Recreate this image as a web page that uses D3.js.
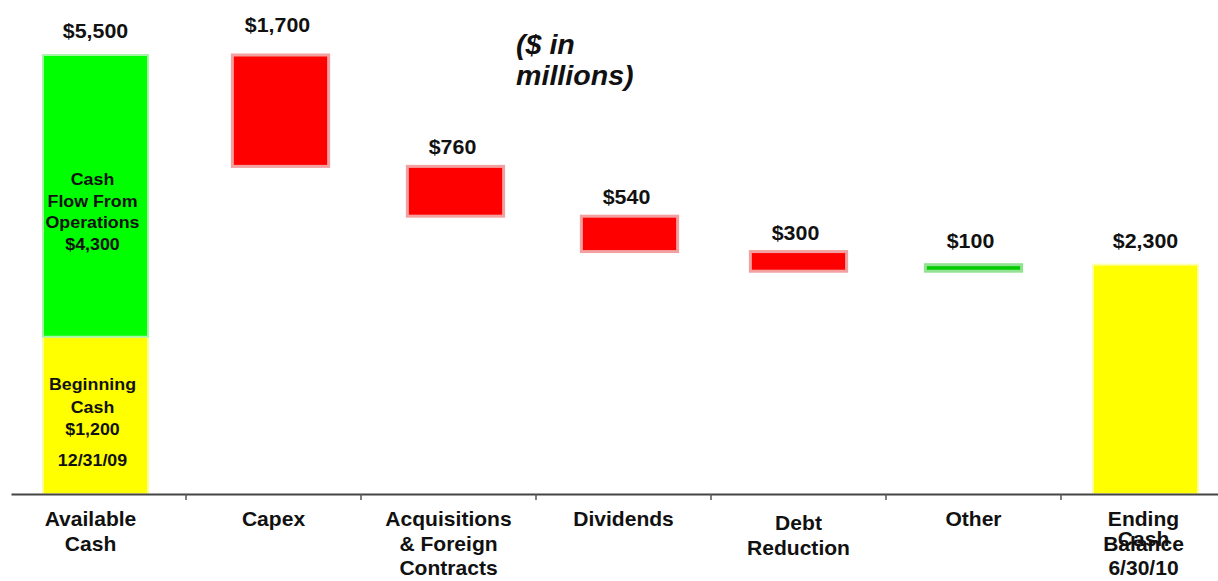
<!DOCTYPE html>
<html>
<head>
<meta charset="utf-8">
<script src="https://cdn.jsdelivr.net/npm/d3@7"></script>
<style>
  html, body { margin: 0; padding: 0; background: #ffffff; }
  svg { display: block; font-family: "Liberation Sans", Arial, Helvetica, sans-serif; }
</style>
</head>
<body>
<script>
// ---- data (USD millions) ----
const categories = ["Available Cash", "Capex", "Acquisitions & Foreign Contracts",
                    "Dividends", "Debt Reduction", "Other", "Ending Cash Balance"];
// category label lines; strings sharing one line are printed on top of each other
const categoryLines = [
  [["Available"], ["Cash"]],
  [["Capex"]],
  [["Acquisitions"], ["& Foreign"], ["Contracts"]],
  [["Dividends"]],
  [["Debt"], ["Reduction"]],
  [["Other"]],
  [["Ending"], ["Cash", "Balance"], ["6/30/10"]]
];
const beginningCash = 1200;       // 12/31/09
const operatingCashFlow = 4300;
const stepCategories = ["Capex", "Acquisitions & Foreign Contracts", "Dividends", "Debt Reduction", "Other"];
const stepValues = [-1700, -760, -540, -300, 100];
const beginningNote = ["Beginning", "Cash", "$1,200"];
const beginningDate = "12/31/09";
const operationsNote = ["Cash", "Flow From", "Operations", "$4,300"];
const unitNote = ["($ in", "millions)"];

// ---- derived waterfall ----
const availableCash = beginningCash + operatingCashFlow;
let running = availableCash;
const steps = stepCategories.map((c, i) => {
  const start = running;
  running += stepValues[i];
  return { cat: c, value: stepValues[i], start, end: running };
});
const endingCash = running;

const fmt = v => "$" + d3.format(",")(Math.abs(v));

// ---- scales ----
const W = 1218, H = 581;
const svg = d3.select("body").append("svg").attr("width", W).attr("height", H);

const x = d3.scaleBand().domain(categories).range([11, 1236]).padding(0);
// truncated value axis: totals are drawn from the axis floor
const y = d3.scaleLinear().domain([-1200, 5500]).range([494, 55]);
const yFloor = y.domain()[0];

const cx = c => x(c) + x.bandwidth() / 2;
const totalW = x.bandwidth() * 0.6;
const stepW = x.bandwidth() * 0.55;
const totalShift = -3;
const stepShift = { "Capex": 7, "Acquisitions & Foreign Contracts": 7, "Dividends": 6 };

// slightly widened bold text
function label(g, tx, ty, str, size, opts = {}) {
  const t = g.append("text")
    .attr("transform", `translate(${tx},${ty}) scale(${opts.sx || 1.07},1)`)
    .attr("text-anchor", opts.anchor || "middle")
    .attr("font-size", size).attr("font-weight", "bold").attr("fill", "#111")
    .text(str);
  if (opts.italic) t.attr("font-style", "italic");
  return t;
}

// ---- total bars ----
const totals = [
  { cat: "Available Cash", from: yFloor, to: beginningCash, fill: "#ffff00", halo: "#ffff99" },
  { cat: "Available Cash", from: beginningCash, to: availableCash, fill: "#00ff00", halo: "#a6f5a6" },
  { cat: "Ending Cash Balance", from: yFloor, to: endingCash, fill: "#ffff00", halo: "#ffffa8" }
];
svg.append("g").selectAll("rect").data(totals).join("rect")
  .attr("x", d => cx(d.cat) + totalShift - totalW / 2)
  .attr("width", totalW)
  .attr("y", d => y(d.to))
  .attr("height", d => y(d.from) - y(d.to))
  .attr("fill", d => d.fill)
  .attr("stroke", d => d.halo)
  .attr("stroke-width", 2);

// ---- step bars ----
svg.append("g").selectAll("rect").data(steps).join("rect")
  .attr("x", d => cx(d.cat) + (stepShift[d.cat] || 0) - stepW / 2)
  .attr("width", stepW)
  .attr("y", d => y(Math.max(d.start, d.end)))
  .attr("height", d => Math.abs(y(d.start) - y(d.end)))
  .attr("fill", d => d.value < 0 ? "#ff0000" : "#00cc00")
  .attr("stroke", d => d.value < 0 ? "#f3a0a0" : "#92e292")
  .attr("stroke-width", 3);

// ---- value labels ----
const valueLabels = [
  { cat: "Available Cash", top: availableCash, text: fmt(availableCash), dx: totalShift, gap: 17 },
  ...steps.map(d => ({
    cat: d.cat, top: Math.max(d.start, d.end), text: fmt(d.value),
    dx: (stepShift[d.cat] || 0) - 3,
    gap: d.cat === "Capex" ? 23 : (d.value < 0 ? 12 : 17)
  })),
  { cat: "Ending Cash Balance", top: endingCash, text: fmt(endingCash), dx: totalShift, gap: 17 }
];
const vg = svg.append("g");
valueLabels.forEach(d => label(vg, cx(d.cat) + d.dx, y(d.top) - d.gap, d.text, 20));

// ---- notes inside the available-cash bar ----
const ng = svg.append("g");
const noteX = cx("Available Cash") - 6;
operationsNote.forEach((s, i) => label(ng, noteX, 185 + i * 21.5, s, 16.5, { sx: 1.08 }));
beginningNote.forEach((s, i) => label(ng, noteX, 390 + i * 22.5, s, 16.5, { sx: 1.08 }));
label(ng, noteX, 466, beginningDate, 16.5, { sx: 1.08 });

// ---- unit note ----
const ug = svg.append("g");
unitNote.forEach((s, i) => label(ug, 516, 54 + i * 31, s, 27, { anchor: "start", italic: true, sx: 1.06 }));

// ---- category axis ----
const axis = svg.append("g").attr("transform", `translate(0,${y(yFloor)})`)
  .call(d3.axisBottom(x).tickSize(0).tickFormat(""));
axis.select(".domain").attr("stroke", "#444").attr("stroke-width", 2);
axis.selectAll(".tick").remove();

// boundary ticks between categories
svg.append("g").selectAll("line").data(categories.slice(1)).join("line")
  .attr("x1", d => x(d)).attr("x2", d => x(d))
  .attr("y1", y(yFloor)).attr("y2", y(yFloor) + 6)
  .attr("stroke", "#555").attr("stroke-width", 1.5);

// category labels
const labelG = svg.append("g");
categories.forEach((c, i) => {
  categoryLines[i].forEach((line, j) => {
    line.forEach((s, k) => {
      const ly = 526 + j * 24.5 + (k - (line.length - 1)) * 5 + (c === "Debt Reduction" ? 4 : 0);
      label(labelG, cx(c) - (i === 0 ? 8 : i === 6 ? 5 : 0), ly, s, 19.5, { sx: 1.08 });
    });
  });
});
</script>
</body>
</html>
